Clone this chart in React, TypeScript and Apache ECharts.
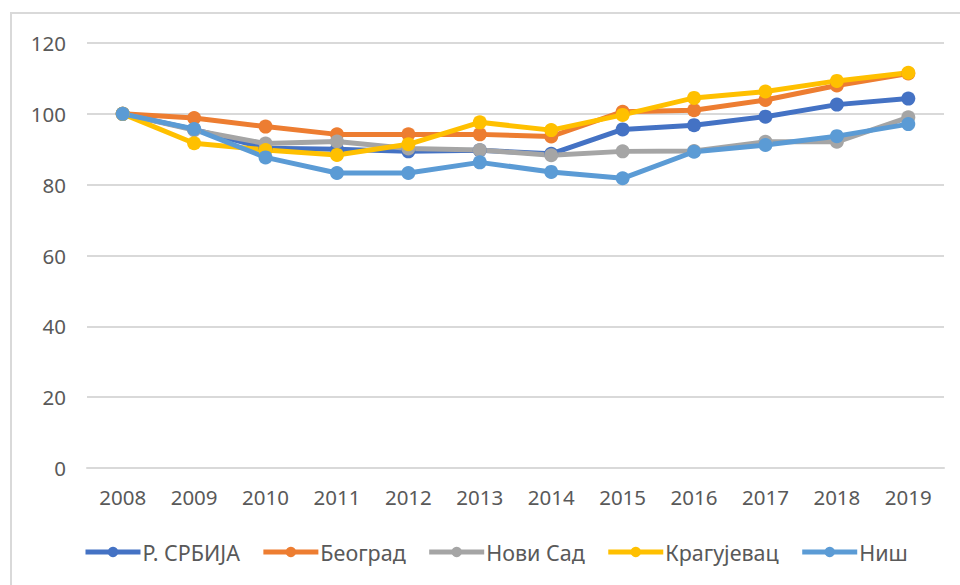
import React, { useEffect, useRef } from "react";
import * as echarts from "echarts";

const years = ["2008", "2009", "2010", "2011", "2012", "2013", "2014", "2015", "2016", "2017", "2018", "2019"];
const srbija = [100, 95.6, 90.3, 90.0, 89.4, 89.7, 88.7, 95.6, 96.8, 99.2, 102.6, 104.3];
const beograd = [100, 98.8, 96.4, 94.2, 94.2, 94.2, 93.6, 100.6, 101.0, 103.9, 108.0, 111.4];
const noviSad = [100, 95.4, 91.6, 92.2, 90.2, 89.8, 88.3, 89.4, 89.5, 92.1, 92.1, 99.0];
const kragujevac = [100, 91.7, 89.8, 88.4, 91.4, 97.6, 95.4, 99.7, 104.5, 106.3, 109.3, 111.6];
const nis = [100, 95.7, 87.7, 83.3, 83.3, 86.3, 83.6, 81.8, 89.3, 91.2, 93.7, 97.1];
const yTicks = [0, 20, 40, 60, 80, 100, 120];

const seriesDefs = [
  { name: "Р. СРБИЈА", data: srbija, color: "#4472C4" },
  { name: "Београд", data: beograd, color: "#ED7D31" },
  { name: "Нови Сад", data: noviSad, color: "#A5A5A5" },
  { name: "Крагујевац", data: kragujevac, color: "#FFC000" },
  { name: "Ниш", data: nis, color: "#5B9BD5" },
];

const FONT = "'Noto Sans', 'Open Sans', sans-serif";

export default function App() {
  const ref = useRef<HTMLDivElement>(null);
  useEffect(() => {
    if (!ref.current) return;
    const chart = echarts.init(ref.current, undefined, { renderer: "svg" });
    chart.setOption({
      animation: false,
      backgroundColor: "#ffffff",
      graphic: [
        {
          type: "rect",
          shape: { x: 11, y: 13, width: 960, height: 600 },
          style: { fill: "none", stroke: "#D9D9D9", lineWidth: 2 },
          silent: true,
          z: -1,
        },
      ],
      grid: { left: 87, right: 16, top: 43, bottom: 117, containLabel: false },
      legend: {
        left: 78,
        top: 536,
        itemWidth: 55,
        itemHeight: 13,
        itemGap: 21,
        lineStyle: { width: 5 },
        textStyle: { color: "#595959", fontSize: 21.5, fontFamily: FONT, padding: [0, 0, 0, -3] },
        data: seriesDefs.map((s) => s.name),
      },
      xAxis: {
        type: "category",
        data: years,
        boundaryGap: true,
        axisLine: { show: true, lineStyle: { color: "#D9D9D9", width: 2 } },
        axisTick: { show: false },
        axisLabel: { color: "#595959", fontSize: 20.5, fontFamily: FONT, margin: 18 },
      },
      yAxis: {
        type: "value",
        min: yTicks[0],
        max: yTicks[yTicks.length - 1],
        interval: 20,
        axisLine: { show: false },
        axisTick: { show: false },
        splitLine: { lineStyle: { color: "#D9D9D9", width: 2 } },
        axisLabel: { color: "#595959", fontSize: 20.5, fontFamily: FONT, margin: 21 },
      },
      series: seriesDefs.map((s) => ({
        name: s.name,
        type: "line",
        data: s.data,
        symbol: "circle",
        symbolSize: 14,
        lineStyle: { color: s.color, width: 5 },
        itemStyle: { color: s.color },
      })),
    });
    return () => chart.dispose();
  }, []);
  return (
    <div
      ref={ref}
      style={{ position: "fixed", left: 0, top: 0, width: 960, height: 585, background: "#fff" }}
    />
  );
}
